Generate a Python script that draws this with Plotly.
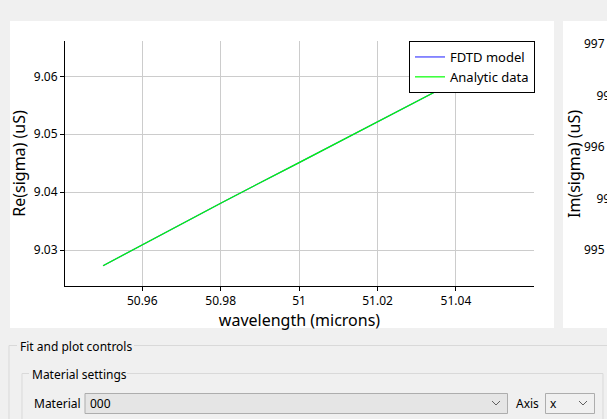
import plotly.graph_objects as go

W, H = 607, 419

# Analytic data; the FDTD model curve lies underneath it
wavelength = [50.95, 50.98, 51.0, 51.02, 51.04]
re_sigma = [9.0273, 9.0381, 9.0451, 9.0522, 9.0592]
fdtd_wavelength = [50.95, 50.98, 51.0, 51.02, 51.04]
fdtd_re_sigma = [9.0273, 9.0381, 9.0451, 9.0522, 9.0592]

x_ticks = [50.96, 50.98, 51.0, 51.02, 51.04]
y_ticks = [9.03, 9.04, 9.05, 9.06]
im_ticks = [995, 995.5, 996, 996.5, 997]
im_tick_labels = ["995", "\u00a0\u00a0\u00a0\u00a0995.5", "996", "\u00a0\u00a0\u00a0\u00a0996.5", "997"]

PLOT_FONT = "Noto Sans"
GUI_FONT = "Noto Sans"


def px(x):
    return x / W


def py(y):
    return 1 - y / H


fig = go.Figure()
fig.add_trace(go.Scatter(x=fdtd_wavelength, y=fdtd_re_sigma, name="FDTD model", mode="lines",
                         line=dict(color="#4040ff", width=1.2)))
fig.add_trace(go.Scatter(x=wavelength, y=re_sigma, name="Analytic data", mode="lines",
                         line=dict(color="#00ff00", width=1.2)))
# empty trace so the Im(sigma) axis gets drawn
fig.add_trace(go.Scatter(x=[], y=[], xaxis="x2", yaxis="y2", showlegend=False, hoverinfo="skip"))

shapes = [
    # white plot panels
    dict(type="rect", xref="paper", yref="paper", x0=px(10), x1=px(554), y0=py(328), y1=py(21),
         fillcolor="white", line=dict(width=0), layer="below"),
    dict(type="rect", xref="paper", yref="paper", x0=px(563), x1=px(620), y0=py(328), y1=py(21),
         fillcolor="white", line=dict(width=0), layer="below"),
]

box_col = "#d9d9d9"
# group boxes
for seg in [((9, 345.5), (17, 345.5)), ((134, 345.5), (620, 345.5)), ((9, 345.5), (9, 425)),
            ((22, 373.5), (29, 373.5)), ((127, 373.5), (603, 373.5)), ((22, 373.5), (22, 425)),
            ((603, 373.5), (603, 425))]:
    (a, b), (c, d) = seg
    shapes.append(dict(type="line", xref="paper", yref="paper", x0=px(a), y0=py(b), x1=px(c), y1=py(d),
                       line=dict(color=box_col, width=1)))

# combo boxes
shapes.append(dict(type="rect", xref="paper", yref="paper", x0=px(85), x1=px(507.5), y0=py(413.5), y1=py(393.5),
                   fillcolor="#e5e5e5", line=dict(color="#adadad", width=1)))
shapes.append(dict(type="rect", xref="paper", yref="paper", x0=px(545.5), x1=px(594.5), y0=py(413.5), y1=py(393.5),
                   fillcolor="#f0f0f0", line=dict(color="#adadad", width=1)))
for cx in (496, 583):
    shapes.append(dict(type="path", xref="paper", yref="paper",
                       path=f"M {px(cx - 4)} {py(401)} L {px(cx)} {py(405)} L {px(cx + 4)} {py(401)}",
                       line=dict(color="#606060", width=1)))

gui_txt = dict(family=GUI_FONT, size=12, color="#000000")
annotations = [
    dict(text="Fit and plot controls", x=px(18), y=py(346), xanchor="left", yanchor="middle", font=gui_txt),
    dict(text="Material settings", x=px(30), y=py(374), xanchor="left", yanchor="middle", font=gui_txt),
    dict(text="Material", x=px(32), y=py(403), xanchor="left", yanchor="middle", font=gui_txt),
    dict(text="000", x=px(88), y=py(403), xanchor="left", yanchor="middle", font=gui_txt),
    dict(text="Axis", x=px(514), y=py(403), xanchor="left", yanchor="middle", font=gui_txt),
    dict(text="x", x=px(548), y=py(403), xanchor="left", yanchor="middle", font=gui_txt),
    dict(text="Im(sigma) (uS)", x=px(574), y=py(164), xanchor="center", yanchor="middle", textangle=-90,
         font=dict(family=PLOT_FONT, size=16, color="#000000")),
]
for a in annotations:
    a.update(xref="paper", yref="paper", showarrow=False)

tick_font = dict(family=PLOT_FONT, size=12, color="#000000")
fig.update_layout(
    width=W, height=H,
    margin=dict(l=0, r=0, t=0, b=0, autoexpand=False),
    paper_bgcolor="#f0f0f0",
    plot_bgcolor="white",
    font=dict(family=PLOT_FONT, color="#000000"),
    shapes=shapes,
    annotations=annotations,
    showlegend=True,
    legend=dict(x=px(535), y=py(41), xanchor="right", yanchor="top", bgcolor="white",
                bordercolor="#000000", borderwidth=1, font=dict(family=PLOT_FONT, size=13),
                tracegroupgap=0, itemwidth=30),
    xaxis=dict(domain=[px(65), px(534)], range=[50.9403, 51.0599], tickvals=x_ticks,
               ticktext=["50.96", "50.98", "51", "51.02", "51.04"], automargin=False,
               showline=True, linecolor="#000000", linewidth=1, mirror=False,
               ticks="outside", ticklen=4, tickcolor="#000000", tickfont=tick_font,
               showgrid=True, gridcolor="#cccccc", gridwidth=1, zeroline=False,
               title=dict(text="wavelength (microns)", font=dict(size=16), standoff=0)),
    yaxis=dict(domain=[py(286), py(41)], range=[9.0238, 9.0661], tickvals=y_ticks,
               ticktext=["9.03", "9.04", "9.05", "9.06"], automargin=False,
               showline=True, linecolor="#000000", linewidth=1, mirror=False,
               ticks="outside", ticklen=4, tickcolor="#000000", tickfont=tick_font,
               showgrid=True, gridcolor="#cccccc", gridwidth=1, zeroline=False,
               title=dict(text="Re(sigma) (uS)", font=dict(size=16), standoff=4)),
    xaxis2=dict(domain=[px(563), 1], visible=False, anchor="y2", automargin=False),
    yaxis2=dict(domain=[py(286), py(41)], range=[994.65, 997.03], anchor="free", position=px(583),
                side="right", tickvals=im_ticks, ticktext=im_tick_labels, tickfont=tick_font,
                automargin=False, showline=False, showgrid=False, zeroline=False, ticks=""),
)

fig.write_html("out.html", config={"displayModeBar": False},
               post_script="document.body.style.margin='0px';document.body.style.overflow='hidden';")
